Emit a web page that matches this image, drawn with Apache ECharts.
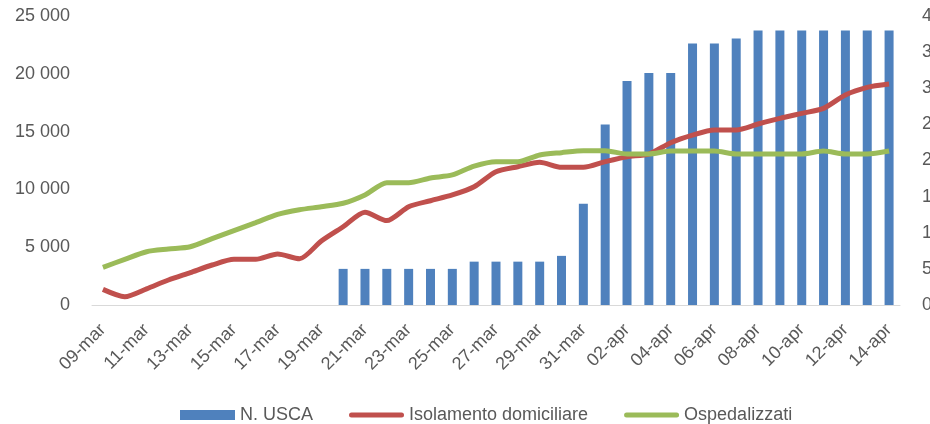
<!DOCTYPE html>
<html>
<head>
<meta charset="utf-8">
<script src="https://cdn.jsdelivr.net/npm/echarts@6/dist/echarts.min.js"></script>
<style>
  html, body { margin: 0; padding: 0; background: #fff; }
  #chart { width: 930px; height: 424px; }
</style>
</head>
<body>
<div id="chart"></div>
<script>
const days = [
  '09-mar', '10-mar', '11-mar', '12-mar', '13-mar', '14-mar', '15-mar', '16-mar',
  '17-mar', '18-mar', '19-mar', '20-mar', '21-mar', '22-mar', '23-mar', '24-mar',
  '25-mar', '26-mar', '27-mar', '28-mar', '29-mar', '30-mar', '31-mar', '01-apr',
  '02-apr', '03-apr', '04-apr', '05-apr', '06-apr', '07-apr', '08-apr', '09-apr',
  '10-apr', '11-apr', '12-apr', '13-apr', '14-apr'
]

// N. USCA (right axis)
const usca = [
  null, null, null, null, null, null, null, null, null, null, null,
  50, 50, 50, 50, 50, 50, 60, 60, 60, 60, 68, 140, 250, 310, 321, 321,
  362, 362, 369, 380, 380, 380, 380, 380, 380, 380
]

// Isolamento domiciliare (left axis)
const isolamento = [
  1350, 720, 1400, 2160, 2800, 3460, 3950, 3950, 4410, 4000, 5540, 6770,
  8020, 7300, 8500, 9020, 9520, 10230, 11530, 11960, 12340, 11910, 11910,
  12400, 12830, 13060, 14040, 14700, 15140, 15140, 15660, 16150, 16580,
  17010, 18170, 18830, 19120
]

// Ospedalizzati (left axis)
const ospedalizzati = [
  3260, 3950, 4610, 4840, 5040, 5740, 6430, 7120, 7840, 8240, 8500, 8800,
  9520, 10580, 10580, 10990, 11250, 12020, 12400, 12400, 12980, 13180, 13350,
  13350, 13060, 13060, 13320, 13320, 13320, 13060, 13060, 13060, 13060,
  13320, 13060, 13060, 13320
]

const font = '"Liberation Sans", Arial, sans-serif'
const grey = '#595959'
const lineIcon = 'path://M2.5,0 L52.5,0 A2.5,2.5 0 0 1 52.5,5 L2.5,5 A2.5,2.5 0 0 1 2.5,0 Z'

let chart = echarts.init(document.getElementById('chart'))
chart.setOption({
  animation: false,
  textStyle: { fontFamily: font },
  grid: { left: 92, right: 30, top: 16, bottom: 119, outerBoundsMode: 'none', containLabel: false },
  legend: {
    top: 401,
    left: 175,
    itemWidth: 55,
    itemHeight: 10,
    itemGap: 36,
    textStyle: { color: grey, fontSize: 18, fontFamily: font },
    data: [
      { name: 'N. USCA', icon: 'rect' },
      { name: 'Isolamento domiciliare', icon: lineIcon },
      { name: 'Ospedalizzati', icon: lineIcon },
    ],
  },
  xAxis: {
    type: 'category',
    data: days,
    axisLine: { lineStyle: { color: '#D9D9D9', width: 1 } },
    axisTick: { interval: 1, length: 5, lineStyle: { color: '#D9D9D9' } },
    axisLabel: {
      interval: 1,
      rotate: 45,
      margin: 22,
      color: grey,
      fontSize: 18,
      fontFamily: font,
    },
  },
  yAxis: [
    {
      type: 'value',
      min: 0,
      max: 25000,
      interval: 5000,
      axisLine: { show: false },
      axisTick: { show: false },
      splitLine: { show: false },
      axisLabel: {
        margin: 22,
        color: grey,
        fontSize: 18,
        fontFamily: font,
        formatter: v => v >= 1000 ? Math.floor(v / 1000) + ' 000' : String(v),
      },
    },
    {
      type: 'value',
      min: 0,
      max: 400,
      interval: 50,
      axisLine: { show: false },
      axisTick: { show: false },
      splitLine: { show: false },
      axisLabel: {
        margin: 22,
        color: grey,
        fontSize: 18,
        fontFamily: font,
      },
    },
  ],
  series: [
    {
      name: 'N. USCA',
      type: 'bar',
      yAxisIndex: 1,
      data: usca,
      barWidth: 9,
      itemStyle: { color: '#4F81BD' },
    },
    {
      name: 'Isolamento domiciliare',
      type: 'line',
      data: isolamento,
      smooth: 0.25,
      showSymbol: false,
      symbol: 'none',
      lineStyle: { color: '#C0504D', width: 5 },
      itemStyle: { color: '#C0504D' },
    },
    {
      name: 'Ospedalizzati',
      type: 'line',
      data: ospedalizzati,
      smooth: 0.25,
      showSymbol: false,
      symbol: 'none',
      lineStyle: { color: '#9BBB59', width: 5 },
      itemStyle: { color: '#9BBB59' },
    },
  ],
})
</script>
</body>
</html>
